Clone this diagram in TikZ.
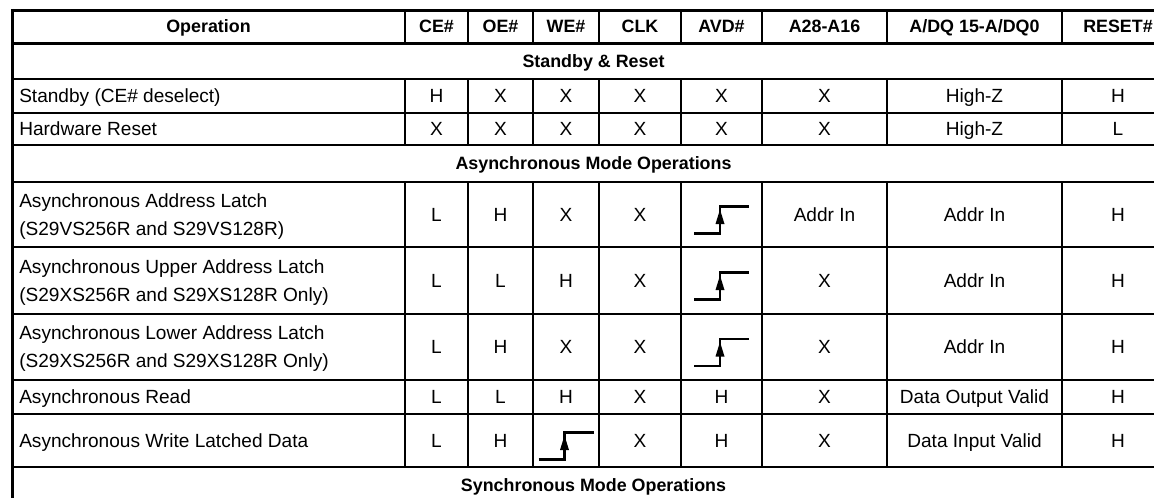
\documentclass[tikz,border=0pt]{standalone}
\usepackage{fontspec}
\setmainfont{Liberation Sans}
\begin{document}
\def\colx{{436.5,500.5,566,640,721.5,824.5,974.5,1118}}
\newcommand\vals[3]{%
  \foreach \v [count=\i] in {#3} {%
    \pgfmathsetmacro\xx{\colx[\i-1]}%
    \node[txt] (#1c\i) at (\xx,#2) {\v};}}
\newcommand\edgesym[2]{%
  \draw[sym] ({#1-27.5},{#2+19}) -- ({#1-1.5},{#2+19}) -- ({#1-1.5},{#2-8}) -- ({#1+27.5},{#2-8});
  \fill ({#1-1.5},{#2-5}) -- ({#1-6},{#2+9.5}) -- ({#1+3},{#2+9.5}) -- cycle;}
\begin{tikzpicture}[x=0.75pt,y=-0.75pt,
  txt/.style={inner sep=0pt, text height=10.2pt, text depth=0pt, font=\fontsize{14.3}{17}\selectfont},
  hd/.style={inner sep=0pt, text height=9.6pt, text depth=0pt, font=\fontsize{13.4}{16}\selectfont\bfseries},
  lab/.style={txt, anchor=west},
  outerline/.style={line width=2.25pt},
  innerline/.style={line width=1.5pt},
  sym/.style={line width=2pt, line cap=butt}]
\useasboundingbox (0,0) rectangle (1154,497);
\clip (0,0) rectangle (1154,497);
\fill[white] (0,0) rectangle (1154,497);
% horizontal lines
\foreach \y in {79,113,145,182,247,314,380,414,467}
  \draw[innerline] (12,\y) -- (1175,\y);
\draw[outerline] (10.9,10) -- (1176,10);
\draw[outerline] (12,43) -- (1175,43);
% vertical lines
\draw[outerline] (12,8.9) -- (12,520);
\draw[outerline] (1175,8.9) -- (1175,520);
\foreach \x in {405,468,533,599,681,762,887,1062} {
  \draw[innerline] (\x,10) -- (\x,43);
  \draw[innerline] (\x,79) -- (\x,145);
  \draw[innerline] (\x,182) -- (\x,467);
}
% header
\node[hd] (h0) at (208.5,26.5) {Operation};
\foreach \t [count=\i] in {CE\#,OE\#,WE\#,CLK,AVD\#,A28-A16,A/DQ 15-A/DQ0,RESET\#} {
  \pgfmathsetmacro\xx{\colx[\i-1]}
  \node[hd] (hc\i) at (\xx,26.5) {\t};
}
% sections
\node[hd] (s1) at (593.5,61) {Standby \& Reset};
\node[hd] (s2) at (593.5,163.5) {Asynchronous Mode Operations};
\node[hd] (s3) at (593.5,485) {Synchronous Mode Operations};
% rows
\node[lab] (r1) at (19,96) {Standby (CE\# deselect)};
\vals{r1}{96}{H,X,X,X,X,X,High-Z,H}
\node[lab] (r2) at (19,129) {Hardware Reset};
\vals{r2}{129}{X,X,X,X,X,X,High-Z,L}
\node[lab] (r3a) at (19,200.5) {Asynchronous Address Latch};
\node[lab] (r3b) at (19,228.5) {(S29VS256R and S29VS128R)};
\vals{r3}{214.5}{L,H,X,X,{},Addr In,Addr In,H}
\edgesym{721.5}{214.5}
\node[lab] (r4a) at (19,266.5) {Asynchronous Upper Address Latch};
\node[lab] (r4b) at (19,294.5) {(S29XS256R and S29XS128R Only)};
\vals{r4}{280.5}{L,L,H,X,{},X,Addr In,H}
\edgesym{721.5}{280.5}
\node[lab] (r5a) at (19,333) {Asynchronous Lower Address Latch};
\node[lab] (r5b) at (19,361) {(S29XS256R and S29XS128R Only)};
\vals{r5}{347}{L,H,X,X,{},X,Addr In,H}
\edgesym{721.5}{347}
\node[lab] (r6) at (19,397) {Asynchronous Read};
\vals{r6}{397}{L,L,H,X,H,X,Data Output Valid,H}
\node[lab] (r7) at (19,440.5) {Asynchronous Write Latched Data};
\vals{r7}{440.5}{L,H,{},X,H,X,Data Input Valid,H}
\edgesym{566}{440.5}
\end{tikzpicture}
\end{document}
